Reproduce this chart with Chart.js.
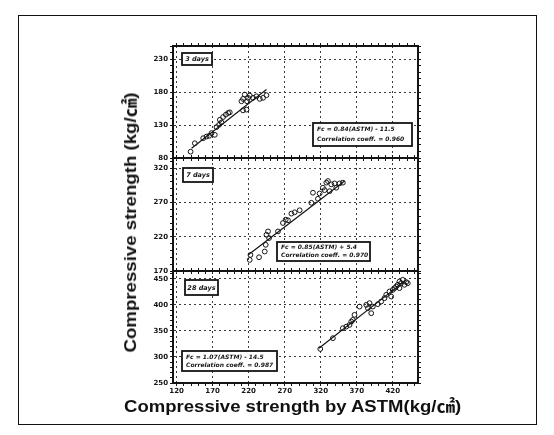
<!DOCTYPE html>
<html><head><meta charset="utf-8">
<script src="https://cdn.jsdelivr.net/npm/chart.js@4"></script>
<style>
html,body{margin:0;padding:0;background:#fff}
body{width:554px;height:435px;overflow:hidden;position:relative}
canvas{position:absolute;left:0;top:0}
#frame{position:absolute;left:18px;top:15px;width:519px;height:410px;border:1.5px solid #111;box-sizing:border-box}
.t{position:absolute;font-weight:bold;color:#111;white-space:nowrap;font-family:"Liberation Sans","Noto Sans CJK KR",sans-serif;font-size:17px;line-height:1}
</style></head><body>
<div id="frame"></div>
<canvas id="c1" width="554" height="435"></canvas>
<canvas id="c2" width="554" height="435"></canvas>
<canvas id="c3" width="554" height="435"></canvas>
<div class="t" id="ytitle">Compressive strength (kg/㎠)</div>
<div class="t" id="xtitle">Compressive strength by ASTM(kg/㎠)</div>
<script>
// ---------- data ----------
const xTickLabels = [120, 170, 220, 270, 320, 370, 420];
const yTickLabels3 = [80, 130, 180, 230];
const yTickLabels7 = [170, 220, 270, 320];
const yTickLabels28 = [250, 300, 350, 400, 450];

const day3X = [139.4,145.3,156.9,161.5,165.2,173,168.5,175.4,179,182.3,180,184.5,188.3,191.5,193.8,212.2,217,210,212.2,219.2,221.5,226.1,230.8,235.4,240,244.7,214.6,217.8];
const day3Y = [89.6,102.4,110.1,112.6,113.6,115.2,117.8,126.9,130.5,134,138,142.2,145.7,148.3,149.3,152.3,153.4,166.1,169.7,171.3,174.8,171.3,173.7,169.7,171.3,175.3,176.3,166.1];
const day3LineX = [140.8, 244.7];
const day3LineY = [94.8, 184.0];

const day7X = [221.5,222.5,234.4,242.3,243.7,244.7,246.9,248.3,260.7,267.6,271.4,274.6,279.3,283.8,290.8,307,309.2,316.1,318.5,323,325.4,327.8,330,332.3,334.7,339.2,341.6,346.2,350.7];
const day7Y = [186.2,193.5,190.1,198.4,208.2,222.9,227.8,218.1,227.8,240.1,245,244,253.8,255.7,258.7,269.6,284.3,275.4,283.2,291.6,288.1,299,301.3,286.6,296.5,297.9,291.6,297.9,299];
const day7LineX = [219.2, 353.1];
const day7LineY = [193.5, 301.3];

const day28X = [319.4,336.9,350.7,355.5,360,362.4,364.6,366.9,373.9,383.2,385.4,390.1,387.7,392.3,399.2,403.9,408.5,410.9,415.4,417.8,420,422.4,424.7,426.9,429.3,431.6,433.8,436.2,438.6,440.8,429.3];
const day28Y = [315.4,336,355.2,358.3,361.5,367.9,371.2,380.8,396.7,400,393.6,384,403.3,396.7,401.3,406.3,412.9,419.2,425.6,416,428.8,432.1,435.2,438.5,444.8,441.7,448.1,438.5,443.7,441.7,432.1];
const day28LineX = [317.5, 438.6];
const day28LineY = [316.7, 448.0];

const panelNames = ['3 days', '7 days', '28 days'];
const eqLines = [
  ['Fc = 0.84(ASTM) - 11.5', 'Correlation coeff. = 0.960'],
  ['Fc = 0.85(ASTM) + 5.4', 'Correlation coeff. = 0.970'],
  ['Fc = 1.07(ASTM) - 14.5', 'Correlation coeff. = 0.987']
];
// ---------- end data ----------

const INK = '#141414';
const X_MIN = 115, X_MAX = 455, X_MINOR = 10;
const Y_MINOR = 10;

function pts(xs, ys) { return xs.map((x, i) => ({x, y: ys[i]})); }
function range(a, b, s) { const r = []; for (let v = a; v <= b + 1e-9; v += s) r.push(+v.toFixed(6)); return r; }

const boxesPlugin = {
  id: 'boxes',
  afterDatasetsDraw(chart, args, o) {
    const {ctx, chartArea: a} = chart;
    ctx.save();
    ctx.strokeStyle = INK; ctx.fillStyle = '#fff'; ctx.lineWidth = 1.8;
    // name box
    let b = o.name;
    ctx.fillRect(a.left + b.x, a.top + b.y, b.w, b.h);
    ctx.strokeRect(a.left + b.x, a.top + b.y, b.w, b.h);
    ctx.fillStyle = INK;
    ctx.font = 'italic bold 6.5px "DejaVu Sans"';
    ctx.textAlign = 'center'; ctx.textBaseline = 'middle';
    ctx.fillText(o.nameText, a.left + b.x + b.w / 2, a.top + b.y + b.h / 2 + 0.5);
    // equation box
    b = o.eq;
    ctx.fillStyle = '#fff';
    ctx.fillRect(a.left + b.x, a.top + b.y, b.w, b.h);
    ctx.strokeRect(a.left + b.x, a.top + b.y, b.w, b.h);
    ctx.fillStyle = INK;
    ctx.font = 'italic bold 6px "DejaVu Sans"';
    ctx.textAlign = 'left';
    ctx.fillText(o.eqText[0], a.left + b.x + 4, a.top + b.y + b.h * 0.3);
    ctx.fillText(o.eqText[1], a.left + b.x + 4, a.top + b.y + b.h * 0.72);
    ctx.restore();
  }
};

function makePanel(id, cfg) {
  const majorX = xTickLabels;
  const majorY = cfg.yLabels;
  const tickFont = {family: 'DejaVu Sans', size: 7, weight: 'bold'};
  const gridColorX = c => (c.tick && majorX.includes(c.tick.value)) ? '#3a3a3a' : 'rgba(0,0,0,0)';
  const gridColorY = c => (c.tick && majorY.includes(c.tick.value)) ? '#3a3a3a' : 'rgba(0,0,0,0)';
  const minorX = range(120, 450, X_MINOR);
  const minorY = range(cfg.yMin, cfg.yMax, Y_MINOR);
  return new Chart(document.getElementById(id), {
    type: 'scatter',
    data: {
      datasets: [
        {data: pts(cfg.x, cfg.y), pointRadius: 2.4, pointBorderWidth: 1, borderColor: INK, backgroundColor: 'rgba(255,255,255,0)', pointHoverRadius: 2.4},
        {type: 'line', data: pts(cfg.lx, cfg.ly), borderColor: INK, borderWidth: 1.2, pointRadius: 0, showLine: true, fill: false}
      ]
    },
    options: {
      responsive: false, animation: false, events: [],
      layout: {padding: {left: 173 - 25, right: 554 - 418 - 4, top: cfg.top - 4, bottom: 435 - cfg.bottom - cfg.xh}},
      plugins: {legend: {display: false}, tooltip: {enabled: false},
        boxes: {name: cfg.nameBox, eq: cfg.eqBox, nameText: cfg.name, eqText: cfg.eq}},
      scales: {
        x: {type: 'linear', position: 'bottom', min: X_MIN, max: X_MAX,
          afterBuildTicks: s => { s.ticks = minorX.map(v => ({value: v})); },
          afterFit: s => { s.height = cfg.xh; },
          ticks: {autoSkip: false, maxRotation: 0, padding: 1, font: tickFont, color: INK,
            callback: v => (cfg.showX && majorX.includes(v)) ? String(v) : ''},
          grid: {color: gridColorX, tickColor: INK, tickLength: 3, lineWidth: 1, tickWidth: 1},
          border: {display: true, color: INK, width: 2, dash: [2, 3]}
        },
        x2: {type: 'linear', position: 'top', min: X_MIN, max: X_MAX,
          afterBuildTicks: s => { s.ticks = minorX.map(v => ({value: v})); },
          afterFit: s => { s.height = 4; },
          ticks: {autoSkip: false, display: true, font: {size: 1}, callback: () => ''},
          grid: {drawOnChartArea: false, tickColor: INK, tickLength: 3},
          border: {display: true, color: INK, width: 2}
        },
        y: {type: 'linear', position: 'left', min: cfg.yMin, max: cfg.yMax,
          afterBuildTicks: s => { s.ticks = minorY.map(v => ({value: v})); },
          afterFit: s => { s.width = 25; },
          ticks: {autoSkip: false, padding: 2, font: tickFont, color: INK,
            callback: v => majorY.includes(v) ? String(v) : ''},
          grid: {color: gridColorY, tickColor: INK, tickLength: 3, lineWidth: 1},
          border: {display: true, color: INK, width: 2, dash: [2, 3]}
        },
        y2: {type: 'linear', position: 'right', min: cfg.yMin, max: cfg.yMax,
          afterBuildTicks: s => { s.ticks = minorY.map(v => ({value: v})); },
          afterFit: s => { s.width = 4; },
          ticks: {autoSkip: false, font: {size: 1}, callback: () => ''},
          grid: {drawOnChartArea: false, tickColor: INK, tickLength: 3},
          border: {display: true, color: INK, width: 2}
        }
      }
    },
    plugins: [boxesPlugin]
  });
}

makePanel('c1', {top: 46, bottom: 158, xh: 4, showX: false, yMin: 80, yMax: 250, yLabels: yTickLabels3,
  x: day3X, y: day3Y, lx: day3LineX, ly: day3LineY, name: panelNames[0], eq: eqLines[0],
  nameBox: {x: 9, y: 7, w: 30, h: 12}, eqBox: {x: 140, y: 77, w: 99, h: 23}});
makePanel('c2', {top: 158, bottom: 271, xh: 4, showX: false, yMin: 170, yMax: 335, yLabels: yTickLabels7,
  x: day7X, y: day7Y, lx: day7LineX, ly: day7LineY, name: panelNames[1], eq: eqLines[1],
  nameBox: {x: 10, y: 10, w: 30, h: 14}, eqBox: {x: 104, y: 84, w: 93, h: 19}});
makePanel('c3', {top: 271, bottom: 383, xh: 16, showX: true, yMin: 250, yMax: 465, yLabels: yTickLabels28,
  x: day28X, y: day28Y, lx: day28LineX, ly: day28LineY, name: panelNames[2], eq: eqLines[2],
  nameBox: {x: 12, y: 9, w: 33, h: 15}, eqBox: {x: 9, y: 80, w: 95, h: 20}});

// titles
function place(el, cx, cy, target, rot) {
  const w = el.getBoundingClientRect().width;
  const s = target / w;
  el.style.left = (cx - w / 2) + 'px';
  el.style.top = (cy - el.getBoundingClientRect().height / 2) + 'px';
  el.style.transformOrigin = '50% 50%';
  el.style.transform = (rot ? 'rotate(-90deg) ' : '') + 'scaleX(' + s + ')';
}
place(document.getElementById('xtitle'), 293, 406, 337, false);
place(document.getElementById('ytitle'), 131, 222, 260, true);
</script>
</body></html>
